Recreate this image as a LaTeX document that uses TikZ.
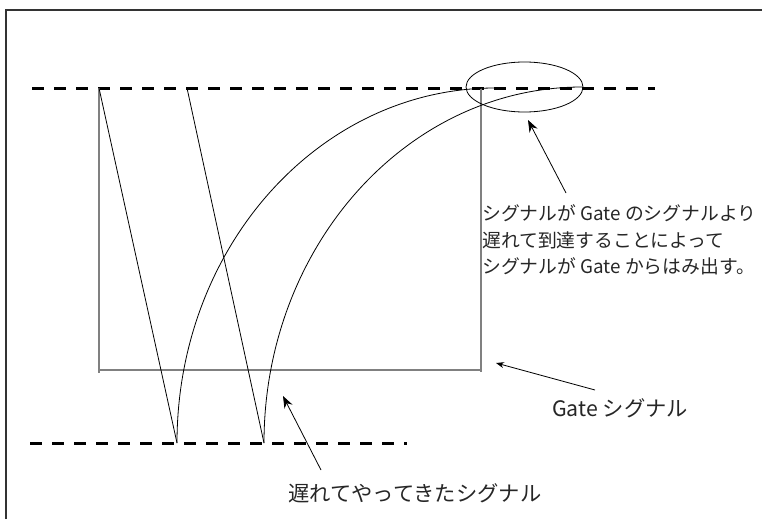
\documentclass[tikz,border=0pt]{standalone}
\usepackage{fontspec}
\setmainfont{Noto Sans CJK JP}
\usetikzlibrary{arrows.meta,shapes.geometric}
\begin{document}
\begin{tikzpicture}[x=1pt,y=-1pt,
  frameline/.style={draw=black!80, line width=1.6pt},
  gateline/.style={draw=black!50, line width=1.6pt},
  sigline/.style={draw=black, line width=0.8pt},
  dashline/.style={draw=black, line width=3pt, dash pattern=on 12pt off 10pt},
  lbl/.style={font=\fontsize{18.8}{26.5}\selectfont, inner sep=0pt, align=left, text=black!85},
  biglbl/.style={lbl, font=\fontsize{21.3}{26.5}\selectfont},
  bigarrow/.style={draw=black, line width=0.8pt, -{Stealth[length=12pt,width=9pt]}},
  smallarrow/.style={draw=black, line width=0.8pt, -{Stealth[length=8pt,width=6pt]}}]
\useasboundingbox (0,0) rectangle (762,519);
% frame
\coordinate (fbl) at (6,519);
\coordinate (ftl) at (6,10);
\coordinate (ftr) at (762,10);
\draw[frameline] (fbl) -- (ftl) -- (ftr);
% dashed levels
\coordinate (t1) at (32,88);
\coordinate (t2) at (655,88);
\coordinate (b1) at (30,443);
\coordinate (b2) at (407,443);
\draw[dashline] (t1) -- (t2);
\draw[dashline] (b1) -- (b2);
% gate rectangle
\coordinate (gtl) at (99,88);
\coordinate (gbl) at (99,373);
\coordinate (gtr) at (481,88);
\coordinate (gbr) at (481,372);
\coordinate (gb1) at (99,370);
\coordinate (gb2) at (481,370);
\draw[gateline] (gtl) -- (gbl);
\draw[gateline] (gtr) -- (gbr);
\draw[gateline] (gb1) -- (gb2);
% signal lines
\coordinate (s1top) at (99,88);
\coordinate (s1bot) at (177,443);
\coordinate (s2top) at (187,88);
\coordinate (s2bot) at (264,443);
\coordinate (c1end) at (495,88);
\coordinate (c2end) at (582,87);
\draw[sigline] (s1top) -- (s1bot);
\draw[sigline] (s2top) -- (s2bot);
\draw[sigline] (s1bot) .. controls (177,247) and (319.4,88) .. (c1end);
\draw[sigline] (s2bot) .. controls (264,247) and (406.4,87) .. (c2end);
% oval
\node[draw=black, line width=0.8pt, ellipse, minimum width=117pt, minimum height=50pt, inner sep=0pt] (oval) at (524.5,87) {};
% labels
\node[lbl, anchor=west] (expl) at (482,240) {シグナルが Gate のシグナルより\\遅れて到達することによって\\シグナルが Gate からはみ出す。};
\node[biglbl] (gatelbl) at (620,408) {Gate シグナル};
\node[biglbl, anchor=west] (latelbl) at (288,493) {遅れてやってきたシグナル};
% arrows
\coordinate (a1s) at (566,193);
\coordinate (a1e) at (528,120);
\coordinate (a2s) at (595,390);
\coordinate (a2e) at (496,363);
\coordinate (a3s) at (321,470);
\coordinate (a3e) at (283,396);
\draw[bigarrow] (a1s) -- (a1e);
\draw[smallarrow] (a2s) -- (a2e);
\draw[bigarrow] (a3s) -- (a3e);
\end{tikzpicture}
\end{document}
